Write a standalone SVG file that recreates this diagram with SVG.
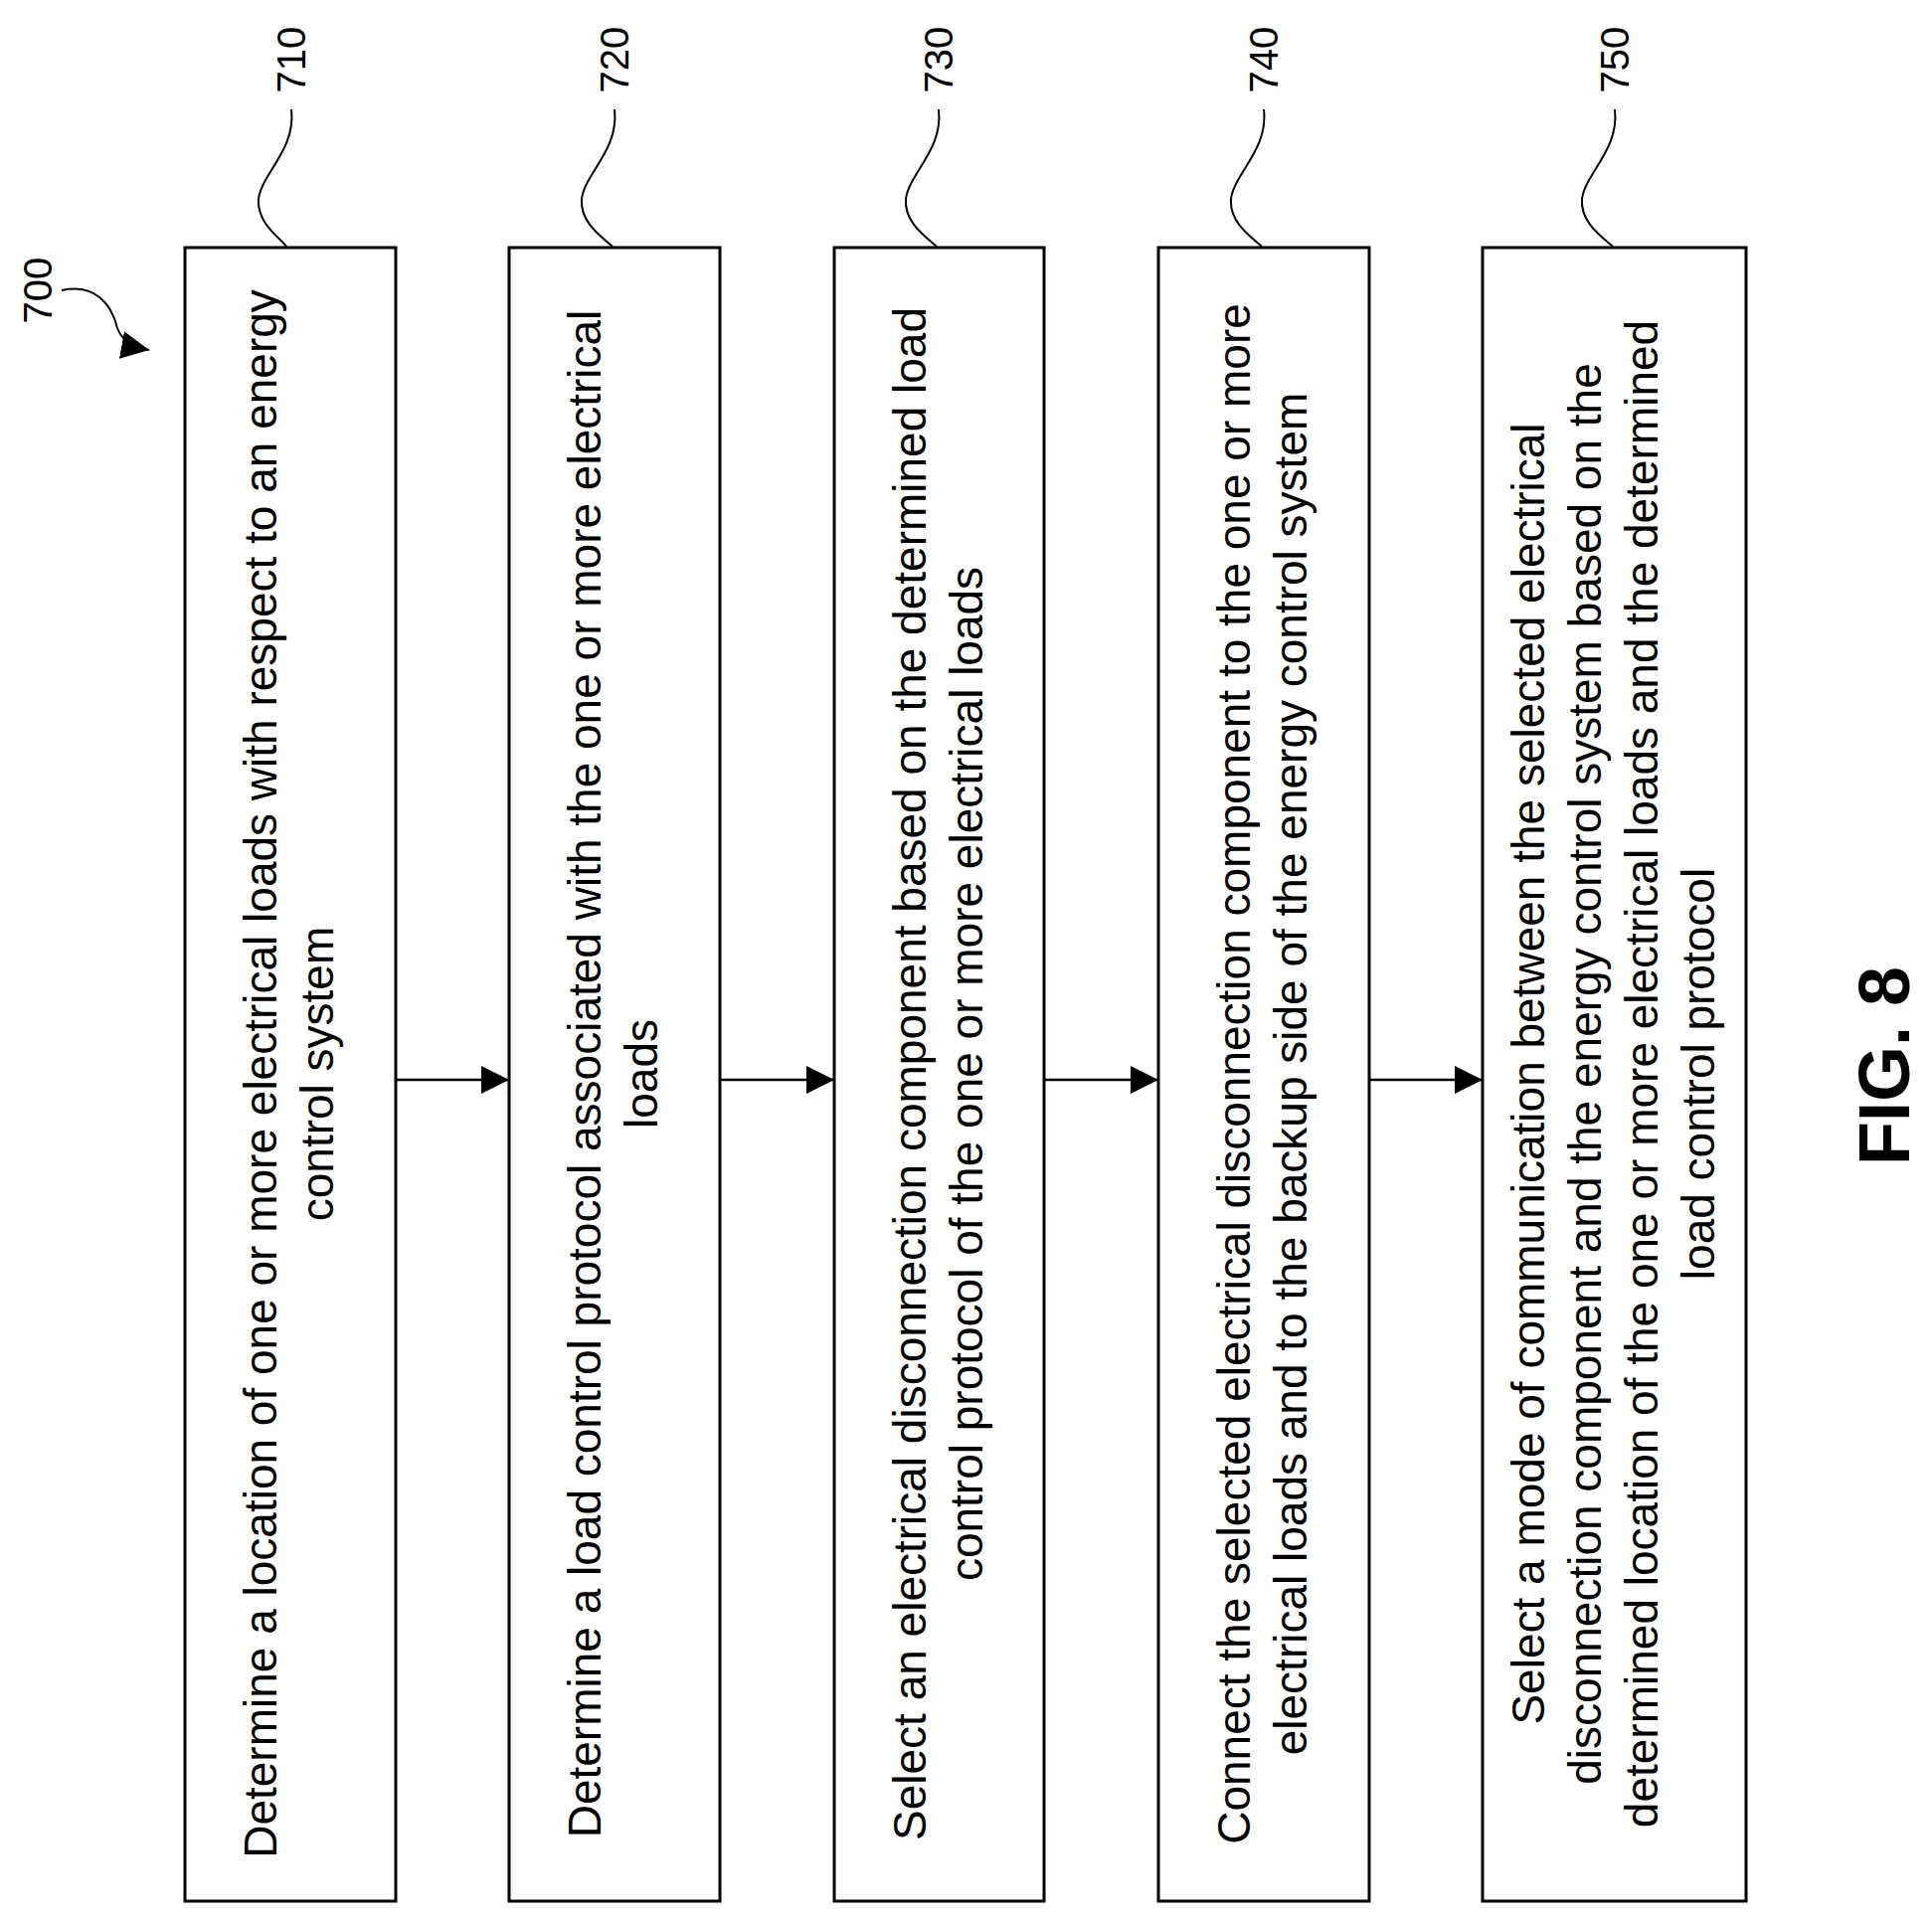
<svg xmlns="http://www.w3.org/2000/svg" width="1943" height="1933" viewBox="0 0 1943 1933">
<style>
.box{fill:#fff;stroke:#000;stroke-width:3}
.t{font-family:"Liberation Sans",Arial,sans-serif;font-size:46px;text-anchor:middle;fill:#000}
.lbl{font-family:"Liberation Sans",Arial,sans-serif;font-size:40px;text-anchor:middle;fill:#000}
.lead{fill:none;stroke:#000;stroke-width:2}
.con{stroke:#000;stroke-width:2.5;fill:none}
</style>
<defs>
<marker id="ah2" viewBox="0 0 10 10" refX="10" refY="5" markerWidth="28" markerHeight="28" markerUnits="userSpaceOnUse" orient="auto"><path d="M0,0L10,5L0,10z" fill="#000"/></marker>
</defs>
<g id="ref700">
<text class="lbl" transform="translate(52,292) rotate(-90)">700</text>
<path class="lead" d="M62,292 C95,285 112,305 118,330 C122,340 128,348 150,352" marker-end="url(#ah2)"/>
</g>
<g id="n710">
<rect class="box" x="186" y="249" width="212" height="1663"/>
<text class="lbl" transform="translate(307,60) rotate(-90)">710</text>
<path class="lead" d="M293,110 C298,150 263,175 260,200 C258,225 283,240 288,248"/>
<g transform="translate(292,1080) rotate(-90)"><text class="t" y="-14">Determine a location of one or more electrical loads with respect to an energy</text><text class="t" y="43">control system</text></g>
</g>
<g id="n720">
<rect class="box" x="512" y="249" width="212" height="1663"/>
<text class="lbl" transform="translate(632,60) rotate(-90)">720</text>
<path class="lead" d="M618,110 C623,150 588,175 585,200 C583,225 608,240 616,248"/>
<g transform="translate(618,1080) rotate(-90)"><text class="t" y="-14">Determine a load control protocol associated with the one or more electrical</text><text class="t" y="43">loads</text></g>
</g>
<g id="n730">
<rect class="box" x="839" y="249" width="211" height="1663"/>
<text class="lbl" transform="translate(958,60) rotate(-90)">730</text>
<path class="lead" d="M944,110 C949,150 914,175 911,200 C909,225 934,240 942,248"/>
<g transform="translate(944.5,1080) rotate(-90)"><text class="t" y="-14">Select an electrical disconnection component based on the determined load</text><text class="t" y="43">control protocol of the one or more electrical loads</text></g>
</g>
<g id="n740">
<rect class="box" x="1165" y="249" width="212" height="1663"/>
<text class="lbl" transform="translate(1285,60) rotate(-90)">740</text>
<path class="lead" d="M1271,110 C1276,150 1241,175 1238,200 C1236,225 1261,240 1269,248"/>
<g transform="translate(1271,1080) rotate(-90)"><text class="t" y="-14">Connect the selected electrical disconnection component to the one or more</text><text class="t" y="43">electrical loads and to the backup side of the energy control system</text></g>
</g>
<g id="n750">
<rect class="box" x="1491" y="249" width="265" height="1663"/>
<text class="lbl" transform="translate(1638,60) rotate(-90)">750</text>
<path class="lead" d="M1624,110 C1629,150 1594,175 1591,200 C1589,225 1614,240 1622,248"/>
<g transform="translate(1623.5,1080) rotate(-90)"><text class="t" y="-71">Select a mode of communication between the selected electrical</text><text class="t" y="-14">disconnection component and the energy control system based on the</text><text class="t" y="43">determined location of the one or more electrical loads and the determined</text><text class="t" y="100">load control protocol</text></g>
</g>
<g id="connectors">
<line class="con" x1="398" y1="1086" x2="512" y2="1086" marker-end="url(#ah2)"/>
<line class="con" x1="724" y1="1086" x2="839" y2="1086" marker-end="url(#ah2)"/>
<line class="con" x1="1050" y1="1086" x2="1165" y2="1086" marker-end="url(#ah2)"/>
<line class="con" x1="1377" y1="1086" x2="1491" y2="1086" marker-end="url(#ah2)"/>
</g>
<text transform="translate(1920,1072) rotate(-90)" style="font-family:'Liberation Sans',Arial,sans-serif;font-size:72px;font-weight:bold;text-anchor:middle">FIG. 8</text>
</svg>
